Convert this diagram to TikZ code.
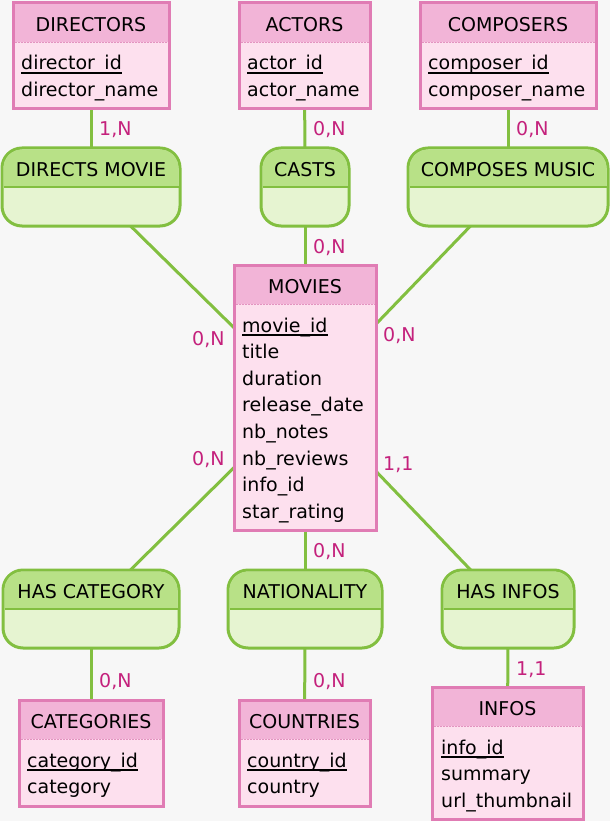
\documentclass[tikz,border=0pt]{standalone}
\usepackage{fontspec}
\setmainfont{DejaVu Sans}
\definecolor{bgc}{HTML}{F7F7F7}
\definecolor{entline}{HTML}{E07CB4}
\definecolor{enthead}{HTML}{F2B4D7}
\definecolor{entbody}{HTML}{FDE0EE}
\definecolor{entsepc}{HTML}{E394C0}
\definecolor{relline}{HTML}{82BF40}
\definecolor{relhead}{HTML}{B8E187}
\definecolor{relbody}{HTML}{E6F4D1}
\definecolor{cardc}{HTML}{C4217C}
\pgfdeclarelayer{back}
\pgfdeclarelayer{conn}
\pgfsetlayers{back,conn,main}
\tikzset{
  entnode/.style={draw=entline, fill=entbody, line width=3pt, inner sep=0pt, outer sep=0pt},
  relnode/.style={draw=relline, fill=relbody, line width=3pt, rounded corners=20pt, inner sep=0pt, outer sep=0pt},
  titletext/.style={anchor=base, inner sep=0pt, font=\fontsize{19}{22}\selectfont},
  attr/.style={anchor=base west, inner sep=0pt, font=\fontsize{19}{22}\selectfont},
  card/.style={anchor=base west, inner sep=0pt, text=cardc, font=\fontsize{19}{22}\selectfont},
  conn/.style={draw=relline, line width=3pt},
  uline/.style={line width=1.3pt, black},
}
\newcommand\Ent[6]{%
  \node[entnode, minimum width={(#4-#2)*1pt}, minimum height={(#5-#3)*1pt}, anchor=north west] (#1) at (#2,#3) {};
  \fill[enthead] ({#2+1.5},{#3+1.5}) rectangle ({#4-1.5},{#3+39});
  \draw[entsepc, line width=0.9pt, dash pattern=on 2pt off 1pt] ({#2+1.5},{#3+39}) -- ({#4-1.5},{#3+39});
  \node[titletext] (#1T) at ({(#2+#4)/2},{#3+28.5}) {#6};
}
\newcommand\Rel[6]{%
  \node[relnode, minimum width={(#4-#2)*1pt}, minimum height={(#5-#3)*1pt}, anchor=north west] (#1) at (#2,#3) {};
  \begin{scope}
    \clip (#2,#3) rectangle (#4,{#3+39});
    \fill[relhead, rounded corners=18.5pt] ({#2+1.5},{#3+1.5}) rectangle ({#4-1.5},{#5-1.5});
  \end{scope}
  \draw[relline, line width=1.3pt] ({#2+1.5},{#3+39}) -- ({#4-1.5},{#3+39});
  \node[titletext] (#1T) at ({(#2+#4)/2},{#3+28.5}) {#6};
}
\newcommand\KeyUL[1]{\draw[uline] ([yshift=-3pt]#1.base west) -- ([yshift=-3pt]#1.base east);}
\begin{document}
\begin{tikzpicture}[x=1pt,y=-1pt]
\begin{pgfonlayer}{back}
  \fill[bgc] (0,0) rectangle (610,821);
\end{pgfonlayer}
\useasboundingbox (0,0) rectangle (610,821);

% entities
\Ent{dir}{13}{3}{169}{109}{DIRECTORS}
\node[attr] (dirA) at (21,70) {director\_id}; \KeyUL{dirA}
\node[attr] (dirB) at (21,96.7) {director\_name};

\Ent{act}{239}{3}{370}{109}{ACTORS}
\node[attr] (actA) at (247,70) {actor\_id}; \KeyUL{actA}
\node[attr] (actB) at (247,96.7) {actor\_name};

\Ent{comp}{420}{3}{596}{109}{COMPOSERS}
\node[attr] (compA) at (428,70) {composer\_id}; \KeyUL{compA}
\node[attr] (compB) at (428,96.7) {composer\_name};

\Ent{mov}{234}{265}{376}{530}{MOVIES}
\node[attr] (movA) at (242,332) {movie\_id}; \KeyUL{movA}
\node[attr] (movB) at (242,358.6) {title};
\node[attr] (movC) at (242,385.2) {duration};
\node[attr] (movD) at (242,411.8) {release\_date};
\node[attr] (movE) at (242,438.4) {nb\_notes};
\node[attr] (movF) at (242,465) {nb\_reviews};
\node[attr] (movG) at (242,491.6) {info\_id};
\node[attr] (movH) at (242,518.2) {star\_rating};

\Ent{cat}{19}{700}{163}{806}{CATEGORIES}
\node[attr] (catA) at (27,767) {category\_id}; \KeyUL{catA}
\node[attr] (catB) at (27,793.7) {category};

\Ent{cou}{239}{700}{370}{806}{COUNTRIES}
\node[attr] (couA) at (247,767) {country\_id}; \KeyUL{couA}
\node[attr] (couB) at (247,793.7) {country};

\Ent{inf}{432}{687}{583}{819}{INFOS}
\node[attr] (infA) at (441,754) {info\_id}; \KeyUL{infA}
\node[attr] (infB) at (441,780.6) {summary};
\node[attr] (infC) at (441,807.2) {url\_thumbnail};

% relationships
\Rel{dm}{2}{148}{180}{226}{DIRECTS MOVIE}
\Rel{cast}{261}{148}{349}{226}{CASTS}
\Rel{cm}{408}{148}{608}{226}{COMPOSES MUSIC}
\Rel{hc}{3}{570}{179}{648}{HAS CATEGORY}
\Rel{nat}{228}{570}{382}{648}{NATIONALITY}
\Rel{hi}{442}{570}{574}{648}{HAS INFOS}

% connectors
\begin{pgfonlayer}{conn}
  \draw[conn] (dir) -- (dm);
  \draw[conn] (act) -- (cast);
  \draw[conn] (comp) -- (cm);
  \draw[conn] (cast) -- (mov);
  \draw[conn] (dm) -- (mov);
  \draw[conn] (cm) -- (mov);
  \draw[conn] (hc) -- (mov);
  \draw[conn] (nat) -- (mov);
  \draw[conn] (hi) -- (mov);
  \draw[conn] (hc) -- (cat);
  \draw[conn] (nat) -- (cou);
  \draw[conn] (hi) -- (inf);
\end{pgfonlayer}

% cardinalities
\node[card] (c1) at (99,136) {1,N};
\node[card] (c2) at (313,136) {0,N};
\node[card] (c3) at (516,136) {0,N};
\node[card] (c4) at (313,253) {0,N};
\node[card] (c5) at (192,345) {0,N};
\node[card] (c6) at (383,341) {0,N};
\node[card] (c7) at (192,465) {0,N};
\node[card] (c8) at (383,470) {1,1};
\node[card] (c9) at (313,557) {0,N};
\node[card] (c10) at (99,687.5) {0,N};
\node[card] (c11) at (313,687.5) {0,N};
\node[card] (c12) at (516,675) {1,1};
\end{tikzpicture}
\end{document}
